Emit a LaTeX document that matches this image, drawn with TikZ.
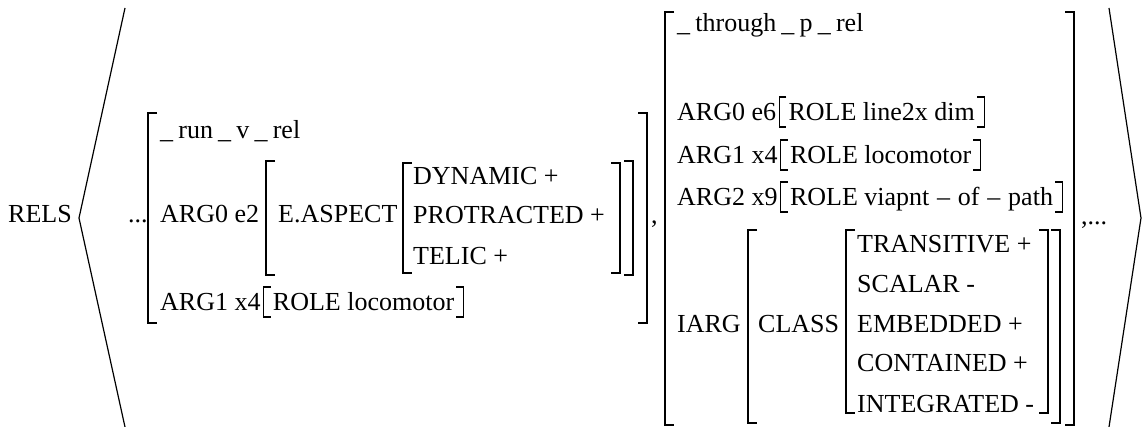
\documentclass[tikz,border=0pt]{standalone}
\usepackage{fontspec}
\setmainfont{Liberation Serif}
\newfontfamily\avmfont{Liberation Serif}
\begin{document}
\begin{tikzpicture}[x=1pt,y=-1pt,
  txt/.style={inner sep=0pt, anchor=base west, font=\avmfont\fontsize{26}{30}\selectfont},
  val/.style={txt, inner xsep=9pt, inner ysep=0pt},
  brk/.style={line width=1.1pt, line cap=butt, line join=miter},
  angl/.style={line width=1.2pt}]
\useasboundingbox (0,0) rectangle (1143,427);

% big square brackets: x, top, bottom
\newcommand\brL[3]{\draw[brk] (#1+9,#2) -- (#1,#2) -- (#1,#3) -- (#1+9,#3);}
\newcommand\brR[3]{\draw[brk] (#1-9,#2) -- (#1,#2) -- (#1,#3) -- (#1-9,#3);}
% one-line brackets around a value node
\newcommand\brI[1]{%
  \draw[brk] ([shift={(7pt,24pt)}]#1.base west) -- ++(-7pt,0) -- ++(0,-30pt) -- ++(7pt,0);
  \draw[brk] ([shift={(-7pt,24pt)}]#1.base east) -- ++(7pt,0) -- ++(0,-30pt) -- ++(-7pt,0);}

% angle brackets of the list
\coordinate (la) at (125,8);  \coordinate (lt) at (79,218);  \coordinate (lb) at (125,427);
\coordinate (ra) at (1109,8); \coordinate (rt) at (1141,218); \coordinate (rb) at (1109,427);
\draw[angl] (la) -- (lt) -- (lb);
\draw[angl] (ra) -- (rt) -- (rb);

\node[txt] (rels) at (8,223) {RELS};
\node[txt] (dots1) at (128,223) {...};

% first relation
\brL{148}{113}{323}
\brR{647}{113}{323}
\node[txt] (runrel) at (160,139) {\_\hspace{0.2em}run\hspace{0.2em}\_\hspace{0.2em}v\hspace{0.2em}\_\hspace{0.2em}rel};
\node[txt] (arg0a) at (160,223) {ARG0 e2};
\brL{266}{161}{275}
\brR{633}{161}{275}
\node[txt] (easp) at (278,223) {E.ASPECT};
\brL{403}{163}{273}
\brR{620}{163}{273}
\node[txt] (dyn) at (413,185) {DYNAMIC +};
\node[txt] (prot) at (413,224) {PROTRACTED +};
\node[txt] (tel) at (413,265) {TELIC +};
\node[txt] (arg1a) at (160,311) {ARG1 x4};
\node[val] (role1a) at ([xshift=3pt]arg1a.base east) {ROLE locomotor};
\brI{role1a}
\node[txt] (comma) at (651,224) {,};

% second relation
\brL{665}{12}{425}
\brR{1074}{12}{425}
\node[txt] (threl) at (677,32) {\_\hspace{0.2em}through\hspace{0.2em}\_\hspace{0.2em}p\hspace{0.2em}\_\hspace{0.2em}rel};
\node[txt] (arg0b) at (677,121) {ARG0 e6};
\node[val] (role0b) at ([xshift=3pt]arg0b.base east) {ROLE line2x dim};
\brI{role0b}
\node[txt] (arg1b) at (677,164) {ARG1 x4};
\node[val] (role1b) at ([xshift=3pt]arg1b.base east) {ROLE locomotor};
\brI{role1b}
\node[txt] (arg2b) at (677,206) {ARG2 x9};
\node[val] (role2b) at ([xshift=3pt]arg2b.base east) {ROLE viapnt\hspace{0.3em}–\hspace{0.3em}of\hspace{0.3em}–\hspace{0.3em}path};
\brI{role2b}
\node[txt] (iarg) at (677,333) {IARG};
\brL{748}{230}{423}
\brR{1060}{230}{423}
\node[txt] (class) at (758,333) {CLASS};
\brL{846}{230}{413}
\brR{1048}{230}{413}
\node[txt] (trans) at (857,253) {TRANSITIVE +};
\node[txt] (scal) at (857,293) {SCALAR -};
\node[txt] (emb) at (857,333) {EMBEDDED +};
\node[txt] (cont) at (857,372) {CONTAINED +};
\node[txt] (integ) at (857,412) {INTEGRATED -};
\node[txt] (dots2) at (1081,225) {,...};
\end{tikzpicture}
\end{document}
